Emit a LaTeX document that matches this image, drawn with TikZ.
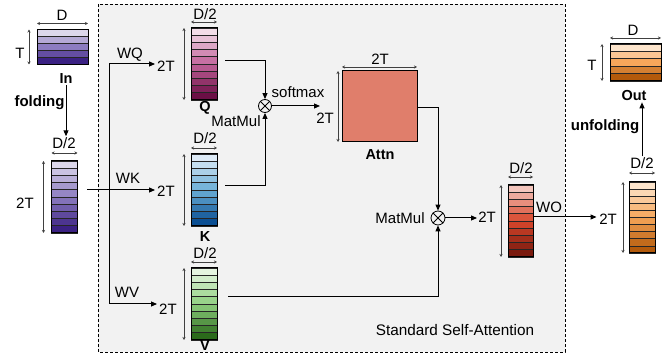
\documentclass[tikz,border=0pt]{standalone}
\usepackage{fontspec}
\setmainfont{Liberation Sans}
\usetikzlibrary{arrows.meta,calc}
\definecolor{bgbox}{HTML}{F2F2F2}
\definecolor{inL}{HTML}{DCD7EB}\definecolor{inM}{HTML}{8C7CC0}\definecolor{inD}{HTML}{3B2183}
\definecolor{qL}{HTML}{F3DDE8}\definecolor{qM}{HTML}{C2639A}\definecolor{qD}{HTML}{6B0F45}
\definecolor{kL}{HTML}{DEEBF7}\definecolor{kM}{HTML}{6AAED6}\definecolor{kD}{HTML}{0B4F93}
\definecolor{vL}{HTML}{E5F5E0}\definecolor{vM}{HTML}{8FCF7F}\definecolor{vD}{HTML}{2B6A1B}
\definecolor{oL}{HTML}{F4C6BD}\definecolor{oM}{HTML}{D8472C}\definecolor{oD}{HTML}{7A1A0E}
\definecolor{gL}{HTML}{FDE5CC}\definecolor{gM}{HTML}{F6A65A}\definecolor{gD}{HTML}{B35A0B}
\definecolor{attnC}{HTML}{E07E6B}
\newcommand{\matrows}[5]{%
  \foreach \i in {1,...,#2}{%
    \pgfmathsetmacro{\ta}{(\i-1)/#2}%
    \pgfmathsetmacro{\tb}{\i/#2}%
    \pgfmathtruncatemacro{\pa}{min(100,round(200*(\i-1)/(#2-1)))}%
    \pgfmathtruncatemacro{\pb}{max(0,round(200*(\i-1)/(#2-1)-100))}%
    \colorlet{rowtmp}{#4!\pa!#3}%
    \filldraw[fill=#5!\pb!rowtmp, draw=black!85, line width=0.7pt] ($(#1.north west)!\ta!(#1.south west)$) rectangle ($(#1.north east)!\tb!(#1.south east)$);
  }%
  \draw[line width=1pt] (#1.north west) rectangle (#1.south east);
}
\begin{document}
\begin{tikzpicture}[x=1pt,y=-1pt,
  lbl/.style={font=\fontsize{15}{17}\selectfont, inner sep=1pt},
  blbl/.style={font=\fontsize{14.5}{17}\selectfont\bfseries, inner sep=1pt},
  mat/.style={inner sep=0pt, outer sep=0pt},
  conn/.style={line width=1pt, -{Triangle[length=6pt,width=5pt]}},
  wire/.style={line width=1pt},
  dim/.style={line width=0.6pt, black!75, {Stealth[length=3pt,width=3pt]}-{Stealth[length=3pt,width=3pt]}},
  otimes/.style={circle, draw, line width=0.8pt, minimum size=13pt, inner sep=0pt},
]
\useasboundingbox (0,0) rectangle (667,355);
% background box
\draw[dash pattern=on 3pt off 2pt, line width=0.7pt, fill=bgbox] (98,4) rectangle (565,352);
\node[lbl, font=\fontsize{15.3}{17}\selectfont] (title) at (455,330) {Standard Self-Attention};

% matrices
\node[mat, minimum width=51pt, minimum height=35pt] (In) at (62.5,47) {};
\node[mat, minimum width=26pt, minimum height=72pt] (F) at (64.5,197) {};
\node[mat, minimum width=26pt, minimum height=72pt] (Q) at (204,64) {};
\node[mat, minimum width=26pt, minimum height=72pt] (K) at (204,190) {};
\node[mat, minimum width=26pt, minimum height=72pt] (V) at (204,304) {};
\node[mat, minimum width=75pt, minimum height=71pt, draw, line width=1pt, fill=attnC] (Attn) at (379.5,106.5) {};
\node[mat, minimum width=25pt, minimum height=72pt] (O) at (520.5,221) {};
\node[mat, minimum width=26pt, minimum height=71pt] (G) at (642,217.5) {};
\node[mat, minimum width=51pt, minimum height=37pt] (Out) at (635.5,62.5) {};
\matrows{In}{5}{inL}{inM}{inD}
\matrows{F}{10}{inL}{inM}{inD}
\matrows{Q}{10}{qL}{qM}{qD}
\matrows{K}{10}{kL}{kM}{kD}
\matrows{V}{10}{vL}{vM}{vD}
\matrows{O}{10}{oL}{oM}{oD}
\matrows{G}{10}{gL}{gM}{gD}
\matrows{Out}{5}{gL}{gM}{gD}

% names under matrices
\node[blbl] (inN) at (66,79) {In};
\node[blbl] (qN) at (205,108) {Q};
\node[blbl] (kN) at (205,237) {K};
\node[blbl] (vN) at (205,346) {V};
\node[blbl] (attnN) at (380,155) {Attn};
\node[blbl] (outN) at (634,96) {Out};
\node[blbl, font=\fontsize{15}{17}\selectfont\bfseries] (foldL) at (39.5,103) {folding};
\node[blbl, font=\fontsize{15}{17}\selectfont\bfseries] (unfoldL) at (605,127) {unfolding};

% dimension labels and arrows
\node[lbl] (inD) at (62,15) {D};
\draw[dim] ([yshift=6pt]In.north west) -- ([yshift=6pt]In.north east);
\node[lbl] (inT) at (20,53) {T};
\draw[dim] ([xshift=-8pt]In.north west) -- ([xshift=-8pt]In.south west);

\node[lbl] (fD) at (64,143) {D/2};
\draw[dim] ([yshift=8pt]F.north west) -- ([yshift=8pt]F.north east);
\node[lbl] (fT) at (25,203) {2T};
\draw[dim] ([xshift=-8pt]F.north west) -- ([xshift=-8pt]F.south west);

\node[lbl] (qD) at (205,14) {D/2};
\draw[dim] ([yshift=6pt]Q.north west) -- ([yshift=6pt]Q.north east);
\draw[dim] ([xshift=-7pt]Q.north west) -- ([xshift=-7pt]Q.south west);
\node[lbl] (kD) at (205,138) {D/2};
\draw[dim] ([yshift=6pt]K.north west) -- ([yshift=6pt]K.north east);
\draw[dim] ([xshift=-7pt]K.north west) -- ([xshift=-7pt]K.south west);
\node[lbl] (vD) at (205,253) {D/2};
\draw[dim] ([yshift=6pt]V.north west) -- ([yshift=6pt]V.north east);
\draw[dim] ([xshift=-7pt]V.north west) -- ([xshift=-7pt]V.south west);

\node[lbl] (aD) at (380,59) {2T};
\draw[dim] ([yshift=4pt]Attn.north west) -- ([yshift=4pt]Attn.north east);
\node[lbl] (aT) at (325,118) {2T};
\draw[dim] ([xshift=-4pt]Attn.north west) -- ([xshift=-4pt]Attn.south west);

\node[lbl] (oD) at (521,168) {D/2};
\draw[dim] ([yshift=8pt]O.north west) -- ([yshift=8pt]O.north east);
\draw[dim] ([xshift=-7pt]O.north west) -- ([xshift=-7pt]O.south west);

\node[lbl] (gDl) at (642,163) {D/2};
\draw[dim] ([yshift=9pt]G.north west) -- ([yshift=9pt]G.north east);
\draw[dim] ([xshift=-6pt]G.north west) -- ([xshift=-6pt]G.south west);

\node[lbl] (outD) at (633,30) {D};
\draw[dim] ([yshift=6pt]Out.north west) -- ([yshift=6pt]Out.north east);
\node[lbl] (outT) at (592,65) {T};
\draw[dim] ([xshift=-8pt]Out.north west) -- ([xshift=-8pt]Out.south west);

% 2T labels at arrow ends
\node[lbl, inner sep=2pt] (q2T) at (166,66) {2T};
\node[lbl, inner sep=2pt] (k2T) at (166,191) {2T};
\node[lbl, inner sep=2pt] (v2T) at (168,309) {2T};
\node[lbl, inner sep=1pt] (o2T) at (487,217) {2T};
\node[lbl, inner sep=2.5pt] (g2T) at (608,219) {2T};

% weight labels
\node[lbl] (wq) at (130,55) {WQ};
\node[lbl] (wk) at (128,178) {WK};
\node[lbl] (wv) at (127,292) {WV};
\node[lbl] (wo) at (549,207) {WO};

% folding / unfolding
\draw[conn] (inN.south) -- (inN.south |- fD.north);
\draw[conn] (gDl.north) -- (gDl.north |- outN.south);

% trunk
\coordinate (tTop) at (109,64);
\coordinate (tBot) at (109,304);
\coordinate (fOut) at (87,190);
\draw[wire] (tTop) -- (tBot);
\draw[conn] (fOut) -- (fOut -| k2T.west);
\draw[conn] (tTop) -- (tTop -| q2T.west);
\draw[conn] (tBot) -- (tBot -| v2T.west);

% matmul nodes
\node[otimes] (m1) at (265,106) {};
\draw[line width=0.8pt] (m1.north west) -- (m1.south east) (m1.north east) -- (m1.south west);
\node[lbl] (m1L) at (236,121) {MatMul};
\node[lbl] (smL) at (298,92) {softmax};
\node[otimes, minimum size=14pt] (m2) at (438,218) {};
\draw[line width=0.8pt] (m2.north west) -- (m2.south east) (m2.north east) -- (m2.south west);
\node[lbl] (m2L) at (400,218) {MatMul};

% connectors
\draw[conn] ([xshift=8pt,yshift=3pt]Q.east) -| (m1.north);
\draw[conn] ([xshift=8pt,yshift=4pt]K.east) -| (m1.south);
\coordinate (attnIn) at (320,106);
\draw[conn] (m1.east) -- (attnIn);
\draw[conn] ([yshift=-1.5pt]Attn.east) -| (m2.north);
\draw[conn] ([xshift=11pt,yshift=7pt]V.east) -| (m2.south);
\draw[conn] (m2.east) -- (m2.east -| o2T.west);
\coordinate (oOut) at ([yshift=4pt]O.east);
\draw[conn] (oOut) -- (oOut -| g2T.west);
\end{tikzpicture}
\end{document}
